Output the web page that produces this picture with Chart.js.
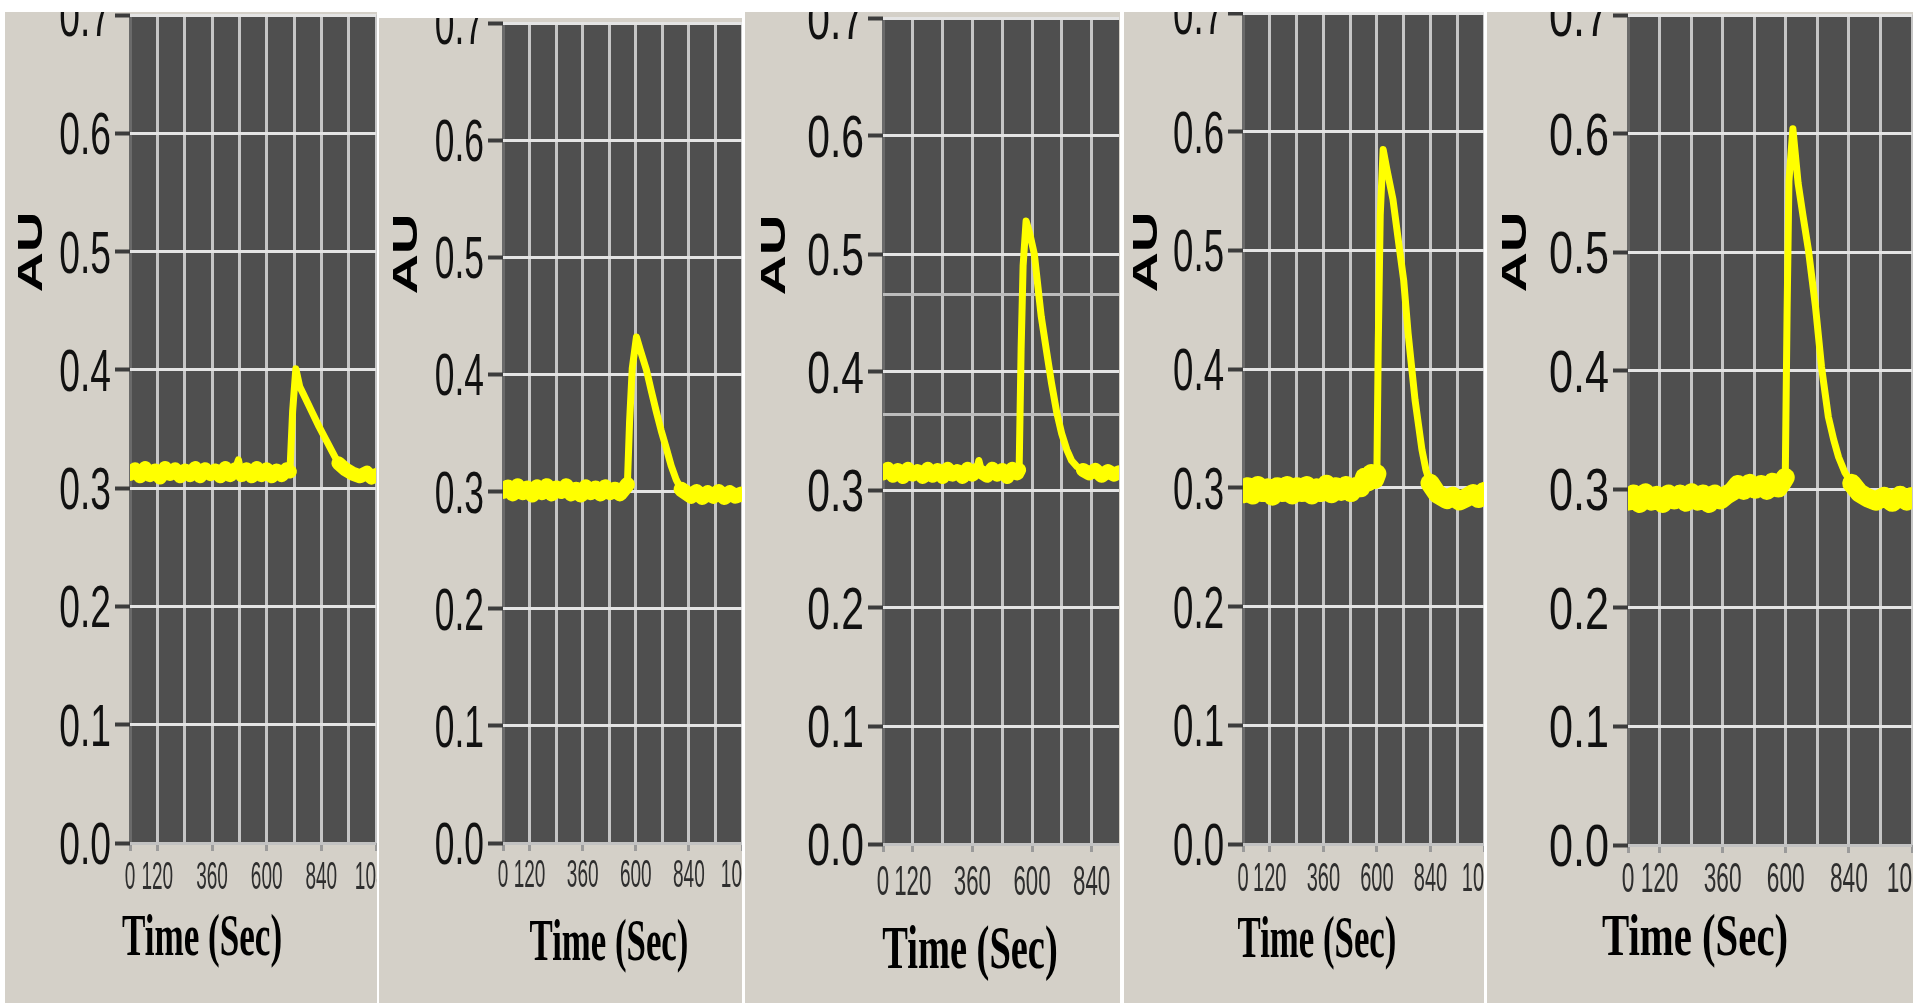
<!DOCTYPE html>
<html>
<head>
<meta charset="utf-8">
<title>AU vs Time</title>
<script src="https://cdn.jsdelivr.net/npm/chart.js@4.4.1/dist/chart.umd.min.js"></script>
<style>
  body { margin: 0; background: #fff; }
  #wrap { position: relative; width: 1921px; height: 1003px; overflow: hidden; background: #fff; }
  .panel { position: absolute; background: #d4d0c8; overflow: hidden; }
  .panel canvas { display: block; }
</style>
</head>
<body>
<div id="wrap"></div>
<script>
// five absorbance traces, AU against time in seconds

const time1 = [0,22,44,66,88,110,132,154,176,198,220,242,264,286,308,330,352,374,396,418,
  440,462,476,490,512,534,556,578,600,622,644,666,688,702,714,728,745,770,800,830,
  860,890,915,945,980,1010,1040,1060,1080];
const au1 = [0.312,0.316,0.310,0.317,0.311,0.315,0.309,0.317,0.312,0.316,0.310,0.315,0.311,0.317,0.310,0.316,0.312,0.315,0.310,0.317,
  0.311,0.316,0.324,0.311,0.316,0.310,0.317,0.311,0.316,0.310,0.315,0.311,0.316,0.314,0.365,0.401,0.386,0.376,0.364,0.352,
  0.341,0.330,0.321,0.316,0.312,0.310,0.313,0.309,0.311];

const time2 = [0,22,44,66,88,110,132,154,176,198,220,242,264,286,308,330,352,374,396,418,
  440,462,484,506,528,550,562,572,584,603,620,648,670,693,715,738,760,783,805,828,
  850,875,900,925,950,975,1000,1025,1050,1080];
const au2 = [0.300,0.304,0.298,0.305,0.299,0.303,0.297,0.304,0.299,0.305,0.298,0.303,0.300,0.305,0.298,0.302,0.297,0.304,0.299,0.303,
  0.298,0.304,0.299,0.302,0.298,0.303,0.306,0.360,0.405,0.432,0.421,0.404,0.386,0.368,0.352,0.337,0.322,0.310,0.302,0.299,
  0.296,0.300,0.295,0.299,0.296,0.300,0.295,0.299,0.296,0.298];

const time3 = [0,20,40,60,80,100,120,140,160,180,200,220,240,260,280,300,320,340,360,376,
  386,398,420,440,460,480,500,520,540,548,556,564,576,590,609,637,658,678,700,719,
  740,759,780,805,830,855,880,905,930,950];
const au3 = [0.314,0.318,0.312,0.317,0.311,0.318,0.313,0.316,0.311,0.318,0.312,0.317,0.311,0.318,0.313,0.316,0.311,0.318,0.313,0.317,
  0.325,0.315,0.312,0.318,0.313,0.317,0.311,0.318,0.314,0.317,0.420,0.490,0.528,0.518,0.500,0.447,0.418,0.391,0.365,0.348,
  0.334,0.325,0.320,0.317,0.314,0.317,0.312,0.316,0.313,0.315];

const time4 = [0,22,44,66,88,110,132,154,176,198,220,242,264,286,308,330,352,374,396,418,
  440,462,484,506,528,545,560,575,590,600,606,615,628,645,672,700,720,740,771,802,
  820,838,870,914,940,970,1003,1030,1055,1080];
const au4 = [0.295,0.301,0.294,0.302,0.296,0.300,0.293,0.301,0.296,0.302,0.294,0.301,0.296,0.302,0.294,0.300,0.296,0.303,0.295,0.301,
  0.297,0.302,0.296,0.301,0.300,0.309,0.305,0.312,0.307,0.312,0.420,0.530,0.585,0.568,0.543,0.503,0.475,0.430,0.374,0.332,
  0.315,0.304,0.295,0.290,0.293,0.289,0.292,0.295,0.291,0.297];

const time5 = [0,22,44,66,88,110,132,154,176,198,220,242,264,286,308,330,352,374,396,418,
  440,462,484,506,528,550,572,590,598,605,612,627,647,666,686,713,736,762,782,801,
  825,851,880,910,943,975,1005,1035,1060,1080];
const au5 = [0.290,0.296,0.288,0.297,0.290,0.295,0.288,0.296,0.291,0.296,0.289,0.297,0.290,0.296,0.288,0.296,0.291,0.295,0.298,0.304,
  0.299,0.305,0.300,0.304,0.299,0.306,0.301,0.307,0.310,0.450,0.560,0.604,0.558,0.530,0.502,0.454,0.403,0.361,0.342,0.327,
  0.314,0.305,0.297,0.293,0.290,0.294,0.289,0.295,0.290,0.294];

const xTickLabels = [0, 120, 360, 600, 840, 1080];
const gridTimes = [0, 120, 240, 360, 480, 600, 720, 840, 960, 1080];
const yTickLabels = [0, 0.1, 0.2, 0.3, 0.4, 0.5, 0.6, 0.7];
const ghostLines3 = [0.364, 0.466];   // stray extra grid lines in the third trace

const times = [time1, time2, time3, time4, time5];
const values = [au1, au2, au3, au4, au5];

// page geometry of each panel (absolute px in the 1921x1003 page)
const panels = [
  {left: 5, top: 12, right: 377, plotL: 130, plotR: 376, plotT: 15, plotB: 843, xMax: 1080,
   ySx: 0.62, xLabY: 875, xSx: 0.50, xFont: 38, titleX: 202, titleY: 955, titleSx: 0.585, titleFont: 60,
   auX: 32, auY: 252, band: 0.321, thick: 14},
  {left: 379, top: 18, right: 742, plotL: 503, plotR: 742, plotT: 23, plotB: 843, xMax: 1080,
   ySx: 0.59, xLabY: 873, xSx: 0.50, xFont: 38, titleX: 609, titleY: 960, titleSx: 0.58, titleFont: 60,
   auX: 407, auY: 254, band: 0.307, thick: 15},
  {left: 745, top: 12, right: 1120, plotL: 883, plotR: 1119, plotT: 18, plotB: 844, xMax: 950,
   ySx: 0.68, xLabY: 880, xSx: 0.53, xFont: 42, titleX: 970, titleY: 968, titleSx: 0.62, titleFont: 62,
   auX: 775, auY: 255, band: 0.319, thick: 14},
  {left: 1124, top: 12, right: 1484, plotL: 1243, plotR: 1484, plotT: 13, plotB: 844, xMax: 1080,
   ySx: 0.61, xLabY: 877, xSx: 0.50, xFont: 40, titleX: 1317, titleY: 957, titleSx: 0.58, titleFont: 60,
   auX: 1147, auY: 252, band: 0.313, thick: 19},
  {left: 1487, top: 12, right: 1913, plotL: 1628, plotR: 1912, plotT: 15, plotB: 845, xMax: 1080,
   ySx: 0.72, xLabY: 877, xSx: 0.54, xFont: 42, titleX: 1695, titleY: 955, titleSx: 0.68, titleFont: 60,
   auX: 1516, auY: 252, band: 0.312, thick: 19}
];

function squeezed(ctx, text, x, y, sx, align) {
  ctx.save();
  ctx.translate(x, y);
  ctx.scale(sx, 1);
  ctx.textAlign = align;
  ctx.fillText(text, 0, 0);
  ctx.restore();
}

function panelPlugin(p) {
  return {
    id: 'panelText',
    beforeDraw(chart) {
      const a = chart.chartArea, ctx = chart.ctx;
      ctx.save();
      ctx.fillStyle = '#4f4f4f';
      ctx.fillRect(a.left, a.top, a.right - a.left, a.bottom - a.top);
      ctx.restore();
    },
    afterDraw(chart) {
      const ctx = chart.ctx, a = chart.chartArea;
      const xs = chart.scales.x, ys = chart.scales.y;
      ctx.save();
      ctx.textBaseline = 'alphabetic';

      // y tick labels
      ctx.fillStyle = '#111';
      ctx.font = '60px "Liberation Sans", Arial, sans-serif';
      yTickLabels.forEach(v => {
        squeezed(ctx, v.toFixed(1), a.left - 19, ys.getPixelForValue(v) + 21, p.ySx, 'right');
      });

      // x tick labels
      ctx.fillStyle = '#2e2e2e';
      ctx.font = p.xFont + 'px "Liberation Sans", Arial, sans-serif';
      xTickLabels.filter(v => v <= p.xMax).forEach(v => {
        squeezed(ctx, String(v), xs.getPixelForValue(v), p.xLabY - p.top + p.xFont * 0.358, p.xSx, 'center');
      });

      // x title
      ctx.fillStyle = '#000';
      ctx.font = 'bold ' + p.titleFont + 'px "Liberation Serif", "Times New Roman", serif';
      squeezed(ctx, 'Time (Sec)', p.titleX - p.left, p.titleY - p.top, p.titleSx, 'center');

      // y title, rotated
      ctx.font = 'bold 56px "Liberation Sans", Arial, sans-serif';
      ctx.translate(p.auX - p.left, p.auY - p.top);
      ctx.scale(0.62, 1);
      ctx.rotate(-Math.PI / 2);
      ctx.textAlign = 'center';
      ctx.textBaseline = 'middle';
      ctx.fillText('AU', 0, 0);
      ctx.restore();
    }
  };
}

const wrap = document.getElementById('wrap');

panels.forEach((p, i) => {
  const div = document.createElement('div');
  div.className = 'panel';
  div.style.left = p.left + 'px';
  div.style.top = p.top + 'px';
  div.style.width = (p.right - p.left) + 'px';
  div.style.height = (1003 - p.top) + 'px';
  const cv = document.createElement('canvas');
  cv.width = p.right - p.left;
  cv.height = 1003 - p.top;
  div.appendChild(cv);
  wrap.appendChild(div);

  const yGrid = i === 2 ? yTickLabels.concat(ghostLines3) : yTickLabels;

  new Chart(cv.getContext('2d'), {
    type: 'line',
    data: {
      datasets: [{
        data: times[i].map((t, k) => ({x: t, y: values[i][k]})),
        borderColor: '#ffff00',
        borderWidth: 7,
        borderJoinStyle: 'round',
        borderCapStyle: 'round',
        pointRadius: 0,
        tension: 0,
        segment: {
          borderWidth: c => (c.p0.parsed.y <= p.band && c.p1.parsed.y <= p.band) ? p.thick : 7
        }
      }]
    },
    options: {
      responsive: false,
      animation: false,
      events: [],
      layout: { padding: { top: p.plotT - p.top, right: p.right - p.plotR, left: 0, bottom: 0 } },
      plugins: { legend: { display: false }, tooltip: { enabled: false } },
      scales: {
        x: {
          type: 'linear',
          min: 0,
          max: p.xMax,
          ticks: { display: false },
          border: { display: false },
          afterBuildTicks: s => { s.ticks = gridTimes.filter(v => v <= p.xMax).map(v => ({value: v})); },
          afterFit: s => { s.height = 1003 - p.plotB; },
          grid: {
            color: c => c.tick && c.tick.value === 0 ? '#6a6a6a' : '#c6c6c6',
            lineWidth: 3,
            tickLength: 8,
            tickWidth: 3,
            tickColor: c => c.tick && xTickLabels.includes(c.tick.value) ? '#9a9a9a' : 'rgba(0,0,0,0)'
          }
        },
        y: {
          min: 0,
          max: 0.7,
          ticks: { display: false },
          border: { display: false },
          afterBuildTicks: s => { s.ticks = yGrid.map(v => ({value: v})); },
          afterFit: s => { s.width = p.plotL - p.left; },
          grid: {
            color: c => {
              const v = c.tick ? c.tick.value : -1;
              if (v === 0) return '#c2c2c2';
              if (ghostLines3.includes(v)) return '#bcbcbc';
              return '#e4e4e4';
            },
            lineWidth: 3,
            tickLength: 15,
            tickWidth: 4,
            tickColor: c => c.tick && yTickLabels.includes(c.tick.value) ? '#3c3c3c' : 'rgba(0,0,0,0)'
          }
        }
      }
    },
    plugins: [panelPlugin(p)]
  });
});
</script>
</body>
</html>
